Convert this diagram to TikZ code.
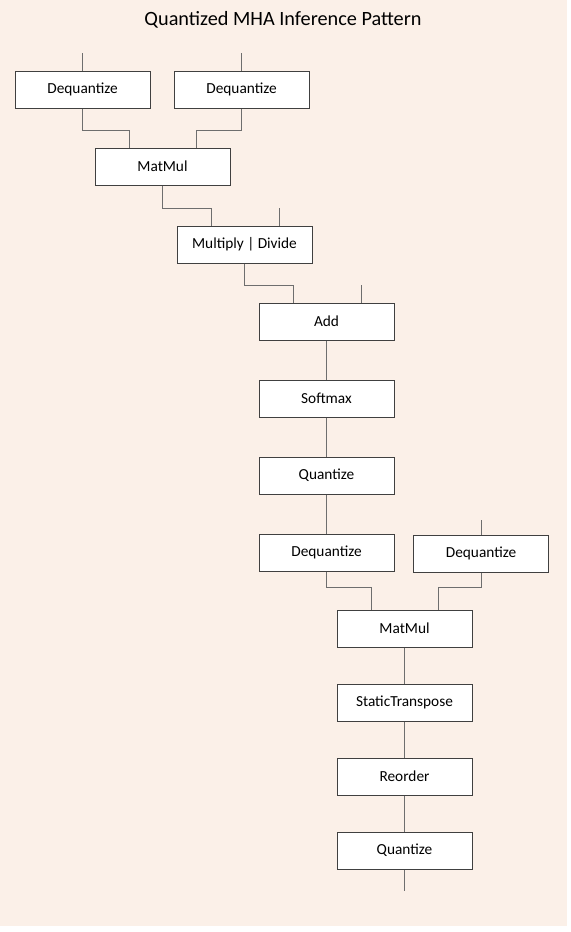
\documentclass[tikz,border=0pt]{standalone}
\usepackage{fontspec}
\setmainfont{Carlito}
\usepackage{tikz}
\usetikzlibrary{calc}

\definecolor{bgpeach}{HTML}{FBF0E8}
\definecolor{boxline}{HTML}{404040}
\definecolor{wire}{HTML}{6E6E6E}

\tikzset{
  op/.style={draw=boxline, fill=white, line width=0.75pt, minimum width=101.25pt,
    minimum height=27.75pt, inner sep=0pt, font=\fontsize{11.5}{13}\selectfont},
  wire/.style={draw=wire, line width=0.75pt}
}

\begin{document}
\begin{tikzpicture}[x=0.75pt,y=-0.75pt]
  \useasboundingbox (0,0) rectangle (571,932);
  \fill[bgpeach] (0,0) rectangle (567,926);
  \node (Title) at (283,20) {\fontsize{15.2}{18}\selectfont Quantized MHA Inference Pattern};
  \node[op] (Deq1) at (82.5,89.5) {Dequantize};
  \node[op] (Deq2) at (241.5,89.5) {Dequantize};
  \node[op] (MM1) at (162.5,166.5) {MatMul};
  \node[op] (MulDiv) at (244.5,244.5) {Multiply | Divide};
  \node[op] (Add) at (326.5,321.5) {Add};
  \node[op] (Soft) at (326.5,398.5) {Softmax};
  \node[op] (Q1) at (326.5,475.5) {Quantize};
  \node[op] (Deq3) at (326.5,552.5) {Dequantize};
  \node[op] (Deq4) at (481,553.5) {Dequantize};
  \node[op] (MM2) at (404.5,628.5) {MatMul};
  \node[op] (ST) at (404.5,702.5) {StaticTranspose};
  \node[op] (Reo) at (404.5,776.5) {Reorder};
  \node[op] (Q2) at (404.5,850.5) {Quantize};
  \coordinate (In1) at (82.5,53);
  \coordinate (In2) at (241.5,53);
  \coordinate (In3) at (279,208);
  \coordinate (In4) at (361,285);
  \coordinate (In5) at (481,520);
  \coordinate (Out) at (404.5,891);
  \path[wire] (In1) -- (Deq1.north) (In2) -- (Deq2.north);
  \path[wire] (Deq1.south) -- ++(0,22) -| ($(MM1.north)+(-33.5,0)$);
  \path[wire] (Deq2.south) -- ++(0,22) -| ($(MM1.north)+(33.5,0)$);
  \path[wire] (MM1.south) -- ++(0,22.5) -| ($(MulDiv.north)+(-33.5,0)$);
  \path[wire] (In3) -- ($(MulDiv.north)+(34.5,0)$);
  \path[wire] (MulDiv.south) -- ++(0,22) -| ($(Add.north)+(-33.5,0)$);
  \path[wire] (In4) -- ($(Add.north)+(34.5,0)$);
  \path[wire] (Add) -- (Soft) (Soft) -- (Q1) (Q1) -- (Deq3);
  \path[wire] (In5) -- (Deq4.north);
  \path[wire] (Deq3.south) -- ++(0,16) -| ($(MM2.north)+(-33.5,0)$);
  \path[wire] (Deq4.south) -- ++(0,15) -| ($(MM2.north)+(33.5,0)$);
  \path[wire] (MM2) -- (ST) (ST) -- (Reo) (Reo) -- (Q2);
  \path[wire] (Q2.south) -- (Out);
\end{tikzpicture}
\end{document}
